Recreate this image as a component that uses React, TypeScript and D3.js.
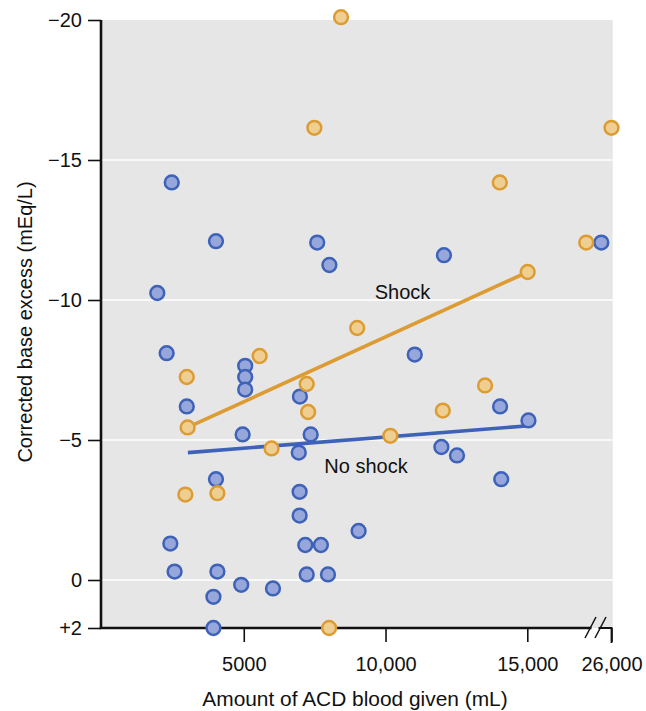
import { useEffect, useRef } from "react";
import * as d3 from "d3";

// amount of ACD blood given (mL) and corrected base excess (mEq/L)
const noShockAmount = [
  2460, 4020, 7590, 8020, 1950, 2280, 5050, 5050, 5050, 6980, 2990, 4960, 7360,
  6940, 4020, 6970, 6970, 9050, 2410, 7170, 7720, 2560, 4070, 7220, 7970, 4910,
  6030, 3930, 3930, 12060, 24670, 11030, 14040, 15150, 11970, 12520, 14080,
];
const noShockBase = [
  -14.2, -12.1, -12.05, -11.25, -10.25, -8.1, -7.65, -7.25, -6.8, -6.55, -6.2,
  -5.2, -5.2, -4.55, -3.6, -3.15, -2.3, -1.75, -1.3, -1.25, -1.25, -0.3, -0.3,
  -0.2, -0.2, 0.2, 0.35, 0.7, 2.0, -11.6, -12.05, -8.05, -6.2, -5.7, -4.75,
  -4.45, -3.6,
];
const shockAmount = [
  8430, 7490, 26000, 14030, 22700, 15050, 9000, 5560, 2990, 7220, 7270, 3020,
  5980, 13510, 12020, 10170, 2940, 4070, 8010,
];
const shockBase = [
  -20.1, -16.15, -16.15, -14.2, -12.05, -11.0, -9.0, -8.0, -7.25, -7.0, -6.0,
  -5.45, -4.7, -6.95, -6.05, -5.15, -3.05, -3.1, 2.0,
];

// fitted lines, end points
const shockFit: [number, number][] = [[3020, -5.45], [15050, -11.0]];
const noShockFit: [number, number][] = [[3030, -4.55], [14950, -5.5]];

const yTicks = [-20, -15, -10, -5, 0, 2];
const yTickLabels = ["\u221220", "\u221215", "\u221210", "\u22125", "0", "+2"];
const gridValues = [-15, -10, -5, 0];
const xTicks = [5000, 10000, 15000, 26000];
const xTickLabels = ["5000", "10,000", "15,000", "26,000"];

const W = 646;
const H = 711;
const FONT = "'Liberation Sans', Arial, Helvetica, sans-serif";
const BLUE = "#3d62b8";
const BLUE_FILL = "#98a7db";
const ORANGE = "#dc9c33";
const ORANGE_FILL = "#efcf91";

export default function App() {
  const ref = useRef<SVGSVGElement>(null);

  useEffect(() => {
    const svg = d3.select(ref.current);
    svg.selectAll("*").remove();

    // axis break after 15,000
    const x = d3.scaleLinear().domain([0, 15000, 26000]).range([102, 527.3, 611.5]);
    const y = d3.scaleLinear().domain([-20, 0, 2]).range([20, 580, 628]);

    const x0 = x(0), x1 = x(26000), yTop = y(-20), yBot = y(2);

    svg.append("rect")
      .attr("x", x0).attr("y", yTop)
      .attr("width", x1 - x0 + 1.2).attr("height", yBot - yTop)
      .attr("fill", "#e6e6e6");

    svg.append("g").selectAll("line")
      .data(gridValues)
      .join("line")
      .attr("x1", x0).attr("x2", x1 + 1.2)
      .attr("y1", d => y(d)).attr("y2", d => y(d))
      .attr("stroke", "#fff").attr("stroke-width", 1.6);

    // y axis
    const yAxis = d3.axisLeft(y)
      .tickValues(yTicks)
      .tickFormat((_d, i) => yTickLabels[i])
      .tickSize(13)
      .tickPadding(6);
    const gy = svg.append("g").attr("transform", `translate(${x0 - 1},0)`).call(yAxis);
    gy.select(".domain").remove();
    gy.selectAll("line").attr("stroke", "#111").attr("stroke-width", 1.6);
    gy.selectAll("text").attr("font-family", FONT).attr("font-size", 20).attr("fill", "#111");

    // x axis
    const xAxis = d3.axisBottom(x)
      .tickValues(xTicks)
      .tickFormat((_d, i) => xTickLabels[i])
      .tickSize(14)
      .tickPadding(15);
    const gx = svg.append("g").attr("transform", `translate(0,${yBot})`).call(xAxis);
    gx.select(".domain").remove();
    gx.selectAll("line").attr("stroke", "#111").attr("stroke-width", 1.6);
    gx.selectAll("text").attr("font-family", FONT).attr("font-size", 20).attr("fill", "#111");

    // axis lines
    const breakX = x1 - 16;
    svg.append("line")
      .attr("x1", x0 - 1).attr("x2", x0 - 1)
      .attr("y1", yTop).attr("y2", yBot + 1)
      .attr("stroke", "#111").attr("stroke-width", 2.6);
    svg.append("line")
      .attr("x1", x0 - 2.3).attr("x2", breakX - 4)
      .attr("y1", yBot).attr("y2", yBot)
      .attr("stroke", "#111").attr("stroke-width", 2.6);
    svg.append("path")
      .attr("d", `M${breakX + 3},${yBot} H${x1} V${yBot + 15}`)
      .attr("fill", "none").attr("stroke", "#111").attr("stroke-width", 1.8);
    svg.append("g").selectAll("line")
      .data([breakX - 5, breakX + 5])
      .join("line")
      .attr("x1", d => d - 5.5).attr("x2", d => d + 5.5)
      .attr("y1", yBot + 10).attr("y2", yBot - 11)
      .attr("stroke", "#111").attr("stroke-width", 1.5);

    // fitted lines
    const line = d3.line<[number, number]>().x(d => x(d[0])).y(d => y(d[1]));
    svg.append("path").attr("d", line(noShockFit))
      .attr("fill", "none").attr("stroke", BLUE).attr("stroke-width", 3.6);
    svg.append("path").attr("d", line(shockFit))
      .attr("fill", "none").attr("stroke", ORANGE).attr("stroke-width", 3.6);

    // points
    svg.append("g").selectAll("circle")
      .data(d3.range(noShockAmount.length))
      .join("circle")
      .attr("cx", i => x(noShockAmount[i]))
      .attr("cy", i => y(noShockBase[i]))
      .attr("r", 6.9)
      .attr("fill", BLUE_FILL).attr("stroke", BLUE).attr("stroke-width", 2.5);
    svg.append("g").selectAll("circle")
      .data(d3.range(shockAmount.length))
      .join("circle")
      .attr("cx", i => x(shockAmount[i]))
      .attr("cy", i => y(shockBase[i]))
      .attr("r", 6.9)
      .attr("fill", ORANGE_FILL).attr("stroke", ORANGE).attr("stroke-width", 2.5);

    // labels
    svg.append("text")
      .attr("x", x(9620)).attr("y", y(-10.04))
      .attr("font-family", FONT).attr("font-size", 20).attr("fill", "#111")
      .text("Shock");
    svg.append("text")
      .attr("x", x(7840)).attr("y", y(-3.82))
      .attr("font-family", FONT).attr("font-size", 20).attr("fill", "#111")
      .text("No shock");

    svg.append("text")
      .attr("x", 355).attr("y", 706)
      .attr("text-anchor", "middle")
      .attr("font-family", FONT).attr("font-size", 20.9).attr("fill", "#111")
      .text("Amount of ACD blood given (mL)");
    svg.append("text")
      .attr("transform", `translate(31.5, 322) rotate(-90)`)
      .attr("text-anchor", "middle")
      .attr("font-family", FONT).attr("font-size", 20).attr("fill", "#111")
      .text("Corrected base excess (mEq/L)");
  }, []);

  return (
    <svg
      ref={ref}
      width={W}
      height={H}
      style={{ position: "absolute", left: 0, top: 0, background: "#fff" }}
    />
  );
}
